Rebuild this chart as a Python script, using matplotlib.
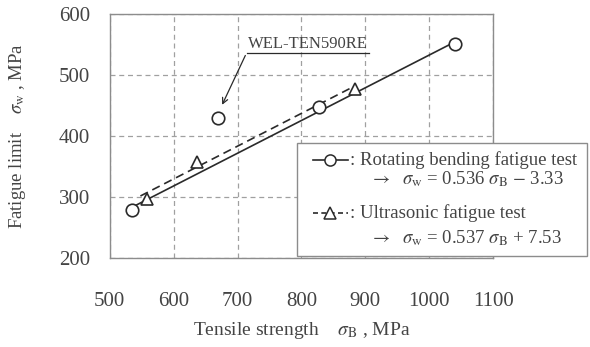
import matplotlib
matplotlib.use("Agg")
import matplotlib.pyplot as plt
import numpy as np
from matplotlib.lines import Line2D
from matplotlib.patches import Rectangle

plt.rcParams["font.family"] = "serif"
plt.rcParams["font.serif"] = ["Liberation Serif", "DejaVu Serif"]
plt.rcParams["mathtext.fontset"] = "stix"

# rotating bending fatigue test
rb_sigma_b = [535, 669, 828, 1040]
rb_sigma_w = [279, 429, 448, 551]
# ultrasonic fatigue test
us_sigma_b = [558, 636, 884]
us_sigma_w = [297, 357, 477]

rb_fit = (0.536, -3.33)
us_fit = (0.537, 7.53)

x_ticks = [500, 600, 700, 800, 900, 1000, 1100]
y_ticks = [200, 300, 400, 500, 600]

text_c = "#444444"
frame_c = "#8c8c8c"
grid_c = "#a0a0a0"

fig = plt.figure(figsize=(5.9, 3.47), dpi=100)
ax = fig.add_axes([0.186, 0.256, 0.65, 0.704])

# fitted lines
xs = np.array([rb_sigma_b[0], rb_sigma_b[-1]])
ax.plot(xs, rb_fit[0] * xs + rb_fit[1], color="#2a2a2a", lw=1.2, zorder=3)
xu = np.array([548, us_sigma_b[-1]])
ax.plot(xu, us_fit[0] * xu + us_fit[1], color="#2a2a2a", lw=1.2,
        dashes=(5, 3), zorder=3)

ax.plot(rb_sigma_b, rb_sigma_w, "o", ms=9, mfc="white", mec="#2a2a2a",
        mew=1.2, zorder=4)
ax.plot(us_sigma_b, us_sigma_w, "^", ms=9, mfc="white", mec="#2a2a2a",
        mew=1.2, zorder=4)

ax.set_xlim(500, 1100)
ax.set_ylim(200, 600)
ax.set_xticks(x_ticks)
ax.set_yticks(y_ticks)
ax.tick_params(length=0, labelsize=15, colors=text_c)
ax.tick_params(axis="x", pad=24)
ax.tick_params(axis="y", pad=14)
ax.grid(True, color=grid_c, ls=(0, (4, 3)), lw=0.9)
for s in ax.spines.values():
    s.set_color(frame_c)
    s.set_linewidth(1.0)

ax.set_xlabel(r"Tensile strength    $\sigma_{\rm B}$ , MPa", fontsize=14,
              color=text_c)
ax.set_ylabel(r"Fatigue limit    $\sigma_{\rm w}$ , MPa", fontsize=13.5,
              color=text_c)
ax.xaxis.set_label_coords(0.5, -0.255)
ax.yaxis.set_label_coords(-0.212, 0.5)

# WEL-TEN590RE annotation
ax.text(716, 538, "WEL-TEN590RE", fontsize=12, color=text_c, ha="left",
        va="bottom")
ax.plot([714, 906], [536, 536], color="#2a2a2a", lw=0.9)
ax.annotate("", xy=(674, 447), xytext=(714, 536),
            arrowprops=dict(arrowstyle="->", color="#2a2a2a", lw=0.9))

# legend box drawn by hand
box = Rectangle((0.488, 0.008), 0.757, 0.463, transform=ax.transAxes,
                facecolor="white", edgecolor=frame_c, lw=1.0,
                clip_on=False, zorder=5)
ax.add_patch(box)

def legend_row(y, y2, marker, dashed, label, eq):
    ls = dict(dashes=(3, 2)) if dashed else {}
    ax.add_line(Line2D([0.53, 0.621], [y, y], transform=ax.transAxes,
                       color="#2a2a2a", lw=1.2, clip_on=False, zorder=6, **ls))
    ax.add_line(Line2D([0.574], [y], transform=ax.transAxes, marker=marker,
                       ms=8, mfc="white", mec="#2a2a2a", mew=1.1,
                       clip_on=False, zorder=7))
    ax.text(0.627, y, ": " + label, transform=ax.transAxes, fontsize=13.5,
            color=text_c, va="center", ha="left", zorder=7)
    ax.text(0.679, y2, eq, transform=ax.transAxes, fontsize=13.5,
            color=text_c, va="center", ha="left", zorder=7)

legend_row(0.402, 0.322, "o", False, "Rotating bending fatigue test",
           r"$\rightarrow$  $\sigma_{\rm w}$ = 0.536 $\sigma_{\rm B}$ $-$ 3.33")
legend_row(0.184, 0.08, "^", True, "Ultrasonic fatigue test",
           r"$\rightarrow$  $\sigma_{\rm w}$ = 0.537 $\sigma_{\rm B}$ + 7.53")

fig.savefig("out.png", dpi=100)
